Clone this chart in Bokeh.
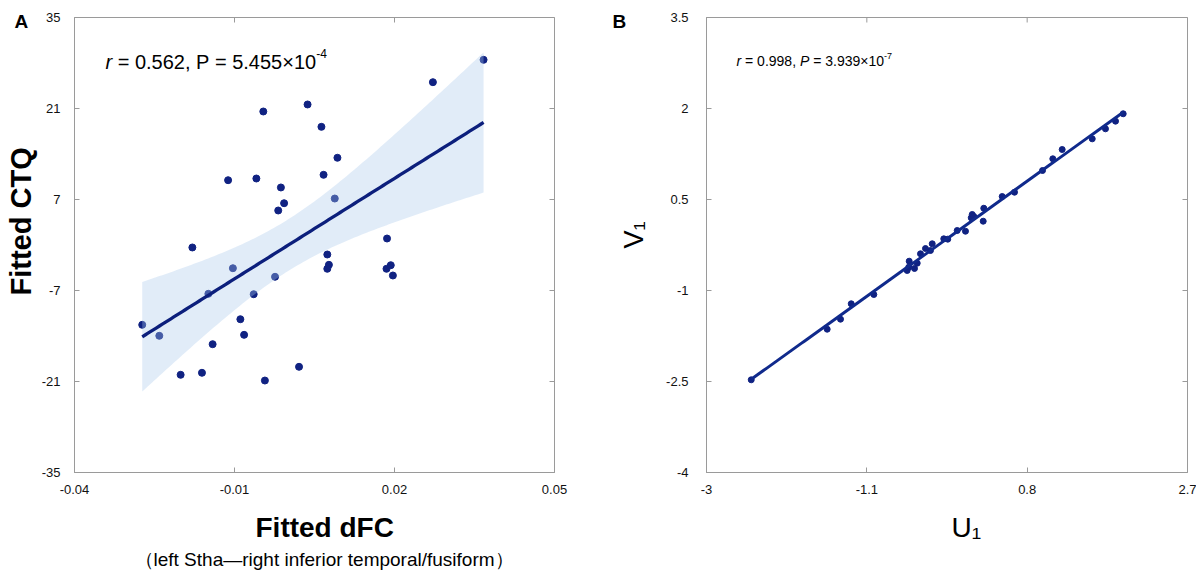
import numpy as np
from bokeh.plotting import figure
from bokeh.models import LinearAxis, FixedTicker, Label, Range1d, Title
from bokeh.layouts import row
from bokeh.embed import file_html
from bokeh.resources import INLINE

FONT = "Liberation Sans"
NAVY = "#102282"
LINE_NAVY = "#0c1f7c"
GREY = "#9a9a9a"
BAND = "#a8c8ec"
NB = "\u00a0"

# ---------------- Panel A data ----------------
a_dfc = [0.0272, 0.0367, 0.0037, -0.0046, 0.0063, 0.0093, -0.0112, -0.0059, 0.0067, -0.0013,
         -0.0007, -0.0018, 0.0088, -0.0179, 0.0186, 0.0074, 0.0077, 0.0074, 0.0185, 0.0193,
         0.0197, -0.0103, -0.0024, -0.0149, -0.0064, -0.0273, -0.0241, -0.0089, -0.0082, -0.0141,
         -0.0201, -0.0161, -0.0043, 0.0021]
a_ctq = [25.05, 28.49, 21.62, 20.54, 18.18, 13.42, 9.97, 10.23, 10.8, 8.85,
         6.43, 5.31, 7.15, -0.38, 1.0, -1.46, -3.05, -3.66, -3.66, -3.11,
         -4.69, -3.57, -4.89, -7.51, -7.57, -12.28, -13.97, -11.42, -13.82, -15.26,
         -19.97, -19.66, -20.85, -18.74]
a_xticks = [-0.04, -0.01, 0.02, 0.05]
a_xtick_labels = ["-0.04", "-0.01", "0.02", "0.05"]
a_yticks = [-35, -21, -7, 7, 21, 35]
a_ytick_labels = ["-35", "-21", "-7", "7", "21", "35"]

# ---------------- Panel B data ----------------
b_u = [-2.470, -1.570, -1.412, -1.285, -1.017, -0.622, -0.598, -0.535, -0.503, -0.464,
       -0.405, -0.346, -0.325, -0.188, -0.141, -0.029, 0.069, 0.137, 0.149, 0.168,
       0.279, 0.286, 0.504, 0.650, 0.982, 1.104, 1.215, 1.571, 1.728, 1.847,
       1.938, -0.603]
b_v = [-2.472, -1.638, -1.473, -1.219, -1.066, -0.670, -0.517, -0.637, -0.550, -0.395,
       -0.308, -0.341, -0.230, -0.148, -0.154, -0.011, -0.023, 0.198, 0.253, 0.220,
       0.142, 0.356, 0.549, 0.620, 0.978, 1.171, 1.324, 1.500, 1.665, 1.791,
       1.913, -0.616]
b_xticks = [-3, -1.1, 0.8, 2.7]
b_xtick_labels = ["-3", "-1.1", "0.8", "2.7"]
b_yticks = [-4, -2.5, -1, 0.5, 2, 3.5]
b_ytick_labels = ["-4", "-2.5", "-1", "0.5", "2", "3.5"]


def ols_fit(x, y, t=2.037):
    x = np.asarray(x, float)
    y = np.asarray(y, float)
    n = len(x)
    slope, icpt = np.polyfit(x, y, 1)
    xg = np.linspace(x.min(), x.max(), 120)
    yg = icpt + slope * xg
    resid = y - (icpt + slope * x)
    s = np.sqrt(np.sum(resid ** 2) / (n - 2))
    sxx = np.sum((x - x.mean()) ** 2)
    se = s * np.sqrt(1.0 / n + (xg - x.mean()) ** 2 / sxx)
    return xg, yg, yg - t * se, yg + t * se


def make_axis(ticks, labels, standoff):
    ax = LinearAxis(ticker=FixedTicker(ticks=ticks))
    ax.major_label_overrides = {tk: lb for tk, lb in zip(ticks, labels)}
    ax.minor_tick_line_color = None
    ax.major_tick_in = 5
    ax.major_tick_out = 0
    ax.major_tick_line_color = GREY
    ax.axis_line_color = GREY
    ax.major_label_text_font = FONT
    ax.major_label_text_color = "#111111"
    ax.major_label_text_font_size = "13px"
    ax.major_label_standoff = standoff
    return ax


def make_fig(width, left, right, xr, yr, xticks, xlabels, yticks, ylabels, xstand, ystand):
    p = figure(width=width, height=576, x_range=Range1d(*xr), y_range=Range1d(*yr),
               x_axis_type=None, y_axis_type=None,
               output_backend="svg", toolbar_location=None,
               min_border_left=left, min_border_right=right,
               min_border_top=17, min_border_bottom=104,
               background_fill_color="white", border_fill_color="white",
               outline_line_color=GREY, outline_line_width=1)
    p.grid.visible = False
    p.add_layout(make_axis(xticks, xlabels, xstand), "below")
    p.add_layout(make_axis(yticks, ylabels, ystand), "left")
    # inward tick marks on the top and right edges (half of each dash is clipped by the frame)
    p.scatter(x=xticks, y=[yr[1]] * len(xticks), marker="dash", size=10, angle=np.pi / 2,
              line_color=GREY, line_width=1)
    p.scatter(x=[xr[1]] * len(yticks), y=yticks, marker="dash", size=10,
              line_color=GREY, line_width=1)
    return p


def text(p, x, y, s, size, style="normal", xo=0.0, yo=0.0):
    p.add_layout(Label(x=x, y=y, x_offset=xo, y_offset=yo, text=s, text_font=FONT,
                       text_font_style=style, text_font_size=f"{size}px",
                       text_baseline="alphabetic", text_color="#000000"))


def side_title(p, s, side, size, style, offset, standoff, valign):
    p.add_layout(Title(text=s, align="left", offset=offset, standoff=standoff,
                       vertical_align=valign, text_font=FONT, text_font_size=f"{size}px",
                       text_font_style=style, text_color="#000000"), side)


# ---------------- Figure A ----------------
pa = make_fig(600, 74, 46, (-0.04, 0.05), (-35, 35), a_xticks, a_xtick_labels,
              a_yticks, a_ytick_labels, 12, 14)

pa.scatter(a_dfc, a_ctq, size=7, fill_color=NAVY, line_color=NAVY)
axg, ayg, alo, ahi = ols_fit(a_dfc, a_ctq)
pa.varea(x=axg, y1=alo, y2=ahi, fill_color=BAND, fill_alpha=0.35)
pa.line(axg, ayg, line_color=LINE_NAVY, line_width=3.3)

# axis titles and panel letter
side_title(pa, "Fitted CTQ", "left", 29, "bold", 177, 0, "top")
side_title(pa, "Fitted dFC", "below", 28, "bold", 181, 31, "top")
side_title(pa, "（left Stha—right inferior temporal/fusiform）", "below", 19, "normal", 60, -23, "top")
side_title(pa, "A", "above", 19, "bold", -60, -28, "bottom")

# statistics annotation (r italic, P upright)
fa = 20
ax0, ay0 = -0.0342, 28.2
text(pa, ax0, ay0, "r", fa, "italic")
text(pa, ax0, ay0, NB + "=" + NB + "0.562," + NB + "P" + NB + "=" + NB + "5.455×10", fa,
     xo=0.333 * fa)
text(pa, ax0, ay0, "-4", round(fa * 0.62), xo=(0.333 + 10.203) * fa, yo=0.42 * fa)

# ---------------- Figure B ----------------
pb = make_fig(596, 106, 9, (-3, 2.7), (-4, 3.5), b_xticks, b_xtick_labels,
              b_yticks, b_ytick_labels, 12, 18)

pb.scatter(b_u, b_v, size=6, fill_color=NAVY, line_color=NAVY)
bxg, byg, _, _ = ols_fit(b_u, b_v)
pb.line(bxg, byg, line_color="#102a8c", line_width=3)

side_title(pb, "U₁", "below", 28, "normal", 245, 31, "top")
side_title(pb, "V₁", "left", 27, "normal", 224, 30, "bottom")
side_title(pb, "B", "above", 19, "bold", -94, -28, "bottom")

fb = 14
bx0, by0 = -2.6445, 2.775
w1 = 0.333 * fb
w2 = 4.198 * fb
w3 = 0.667 * fb
w4 = 5.338 * fb
text(pb, bx0, by0, "r", fb, "italic")
text(pb, bx0, by0, NB + "=" + NB + "0.998," + NB, fb, xo=w1)
text(pb, bx0, by0, "P", fb, "italic", xo=w1 + w2)
text(pb, bx0, by0, NB + "=" + NB + "3.939×10", fb, xo=w1 + w2 + w3)
text(pb, bx0, by0, "-7", round(fb * 0.62), xo=w1 + w2 + w3 + w4, yo=0.42 * fb)

layout = row(pa, pb)
open("out.html", "w").write(file_html(layout, INLINE))
